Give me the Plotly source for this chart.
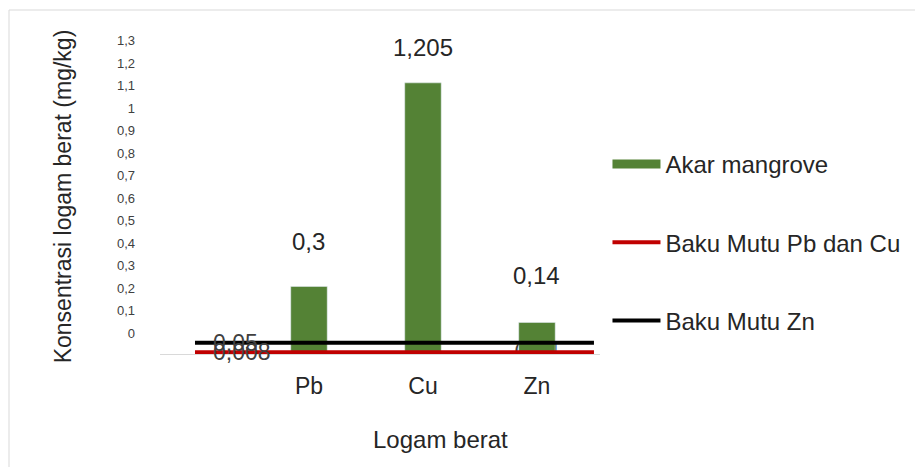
import plotly.graph_objects as go

# ---- data ----
categories = ["Pb", "Cu", "Zn"]
cat_pos = [1, 2, 3]
akar_values = [0.3, 1.205, 0.14]
bar_labels = ["0,3", "1,205", "0,14"]

std_x = [0, 3.5]
baku_pb_cu = [0.008, 0.008]
baku_zn = [0.05, 0.05]
baku_pb_cu_label = "0,008"
baku_zn_label = "0,05"

y_tickvals = [0, 0.1, 0.2, 0.3, 0.4, 0.5, 0.6, 0.7, 0.8, 0.9, 1.0, 1.1, 1.2, 1.3]
y_ticktext = ["0", "0,1", "0,2", "0,3", "0,4", "0,5", "0,6", "0,7", "0,8", "0,9", "1", "1,1", "1,2", "1,3"]

# label placement (pixels above bar top), styling only
label_yshift = [45, 35, 47]

GREEN = "#548235"
RED = "#C00000"
BLACK = "#000000"
FONT = "Liberation Sans, Arial, sans-serif"

fig = go.Figure()

# label partly hidden behind bar and lines (base subplot)
fig.add_trace(go.Scatter(x=[cat_pos[2]], y=[0], mode="text", text=[bar_labels[2]],
                         textposition="middle center",
                         textfont=dict(family=FONT, size=23, color="#404040"),
                         showlegend=False, hoverinfo="skip"))

# overlay subplot: bars and standard lines
fig.add_trace(go.Bar(x=cat_pos, y=akar_values, marker_color=GREEN, width=0.32,
                     name="Akar mangrove", showlegend=False, xaxis="x2", yaxis="y2"))
fig.add_trace(go.Scatter(x=[None], y=[None], mode="lines", line=dict(color=GREEN, width=9),
                         name="Akar mangrove", legendgroup="a", xaxis="x2", yaxis="y2"))
fig.add_trace(go.Scatter(x=std_x, y=baku_pb_cu, mode="lines", line=dict(color=RED, width=4),
                         name="Baku Mutu Pb dan Cu", legendgroup="b", xaxis="x2", yaxis="y2"))
fig.add_trace(go.Scatter(x=std_x, y=baku_zn, mode="lines", line=dict(color=BLACK, width=4),
                         name="Baku Mutu Zn", legendgroup="c", xaxis="x2", yaxis="y2"))

annotations = []
for x, v, t, s in zip(cat_pos, akar_values, bar_labels, label_yshift):
    annotations.append(dict(x=x, y=v, xref="x2", yref="y2", text=t, showarrow=False,
                            yanchor="middle", yshift=s,
                            font=dict(family=FONT, size=24, color="#262626")))
annotations.append(dict(x=std_x[0], y=baku_zn[0], xref="x2", yref="y2", text=baku_zn_label,
                        showarrow=False, xanchor="left", xshift=16,
                        font=dict(family=FONT, size=23, color="#404040")))
annotations.append(dict(x=std_x[0], y=baku_pb_cu[0], xref="x2", yref="y2", text=baku_pb_cu_label,
                        showarrow=False, xanchor="left", xshift=16,
                        font=dict(family=FONT, size=23, color="#404040")))
# x-axis title
annotations.append(dict(x=(440 - 160) / 440, y=(354 - 439) / 315, xref="paper", yref="paper",
                        text="Logam berat", showarrow=False, xanchor="center", yanchor="middle",
                        font=dict(family=FONT, size=24, color="#262626")))

xrange = [-0.307, 3.553]
yrange = [0, 1.4]

fig.update_layout(
    width=915, height=467,
    margin=dict(l=160, r=315, t=39, b=113, autoexpand=False),
    paper_bgcolor="white", plot_bgcolor="white",
    font=dict(family=FONT, size=22, color="#262626"),
    barmode="overlay",
    annotations=annotations,
    xaxis=dict(range=xrange, tickvals=cat_pos, ticktext=categories, showgrid=False,
               zeroline=False, showline=True, linecolor="#d9d9d9", linewidth=1,
               ticks="", ticklabelstandoff=11, automargin=False,
               tickfont=dict(family=FONT, size=23, color="#262626")),
    yaxis=dict(range=yrange, tickvals=y_tickvals, ticktext=y_ticktext, showgrid=False,
               zeroline=False, showline=False, ticks="", ticklabelshift=-21,
               ticklabelstandoff=24, automargin=False,
               tickfont=dict(family=FONT, size=13, color="#404040"),
               title=dict(text="Konsentrasi logam berat (mg/kg)", standoff=38,
                          font=dict(family=FONT, size=23, color="#262626"))),
    xaxis2=dict(overlaying="x", matches="x", visible=False),
    yaxis2=dict(overlaying="y", matches="y", visible=False),
    legend=dict(x=1.017, y=0.673, xanchor="left", yanchor="top", itemwidth=48,
                tracegroupgap=44, traceorder="grouped",
                font=dict(family=FONT, size=24, color="#262626"), bgcolor="rgba(0,0,0,0)"),
    shapes=[dict(type="rect", xref="paper", yref="paper",
                 x0=(9 - 160) / 440, x1=1.8, y0=-0.5, y1=(354 - 10) / 315,
                 line=dict(color="#d9d9d9", width=1), fillcolor="rgba(0,0,0,0)", layer="below")],
)

fig.write_html("out.html", config={"displayModeBar": False},
               post_script="document.body.style.margin='0';")
